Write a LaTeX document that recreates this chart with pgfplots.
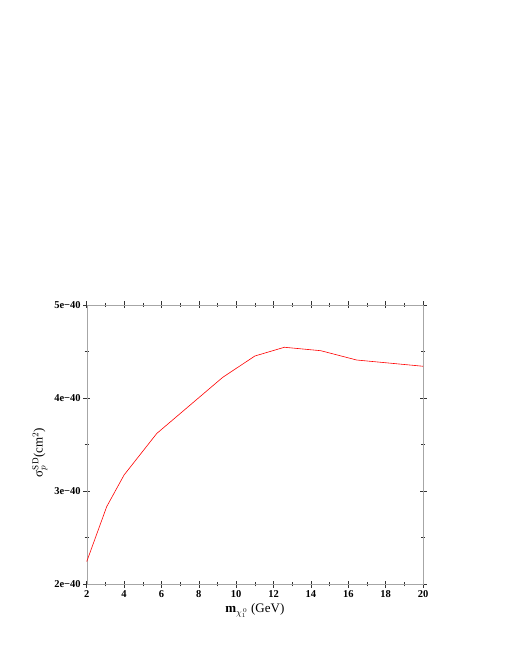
\documentclass[border=0pt]{standalone}
\usepackage{fontspec}
\setmainfont{Liberation Serif}
\usepackage{pgfplots}
\pgfplotsset{compat=1.18}
\begin{document}
\begin{tikzpicture}[x=1pt,y=1pt]
\useasboundingbox (0,0) rectangle (510,660);
\begin{axis}[
  at={(86.7pt,75.7pt)}, anchor=south west,
  scale only axis, width=336.3pt, height=279.3pt,
  xmin=2, xmax=20, ymin=2, ymax=5,
  xtick={2,4,...,20}, ytick={2,3,4,5},
  yticklabels={2e−40,3e−40,4e−40,5e−40},
  minor x tick num=1, minor y tick num=1,
  tick align=center,
  major tick length=7pt, minor tick length=4pt,
  axis line style={gray!70},
  every tick/.style={black!80, line width=0.5pt},
  tick label style={font=\fontsize{10.5}{12}\selectfont\bfseries},
  /pgf/number format/assume math mode=true,
  xticklabel style={yshift=1pt},
  yticklabel style={xshift=1pt},
  xlabel={\textbf{m}$_{\chi_{1}^{\,0}}$ (GeV)},
  ylabel={σ$^{\mathrm{SD}}_{p}$(cm$^{2}$)},
  label style={font=\fontsize{13}{14}\selectfont},
  xlabel style={yshift=1pt},
  ylabel style={yshift=0pt, xshift=-8pt},
]
\addplot[red, line width=0.6pt] coordinates {
(2.0,2.243) (3.07,2.834) (4.0,3.174) (5.75,3.62) (9.28,4.223)
(11.0,4.452) (12.58,4.546) (14.53,4.509) (16.45,4.409) (20,4.342)
};
\end{axis}
\end{tikzpicture}
\end{document}
